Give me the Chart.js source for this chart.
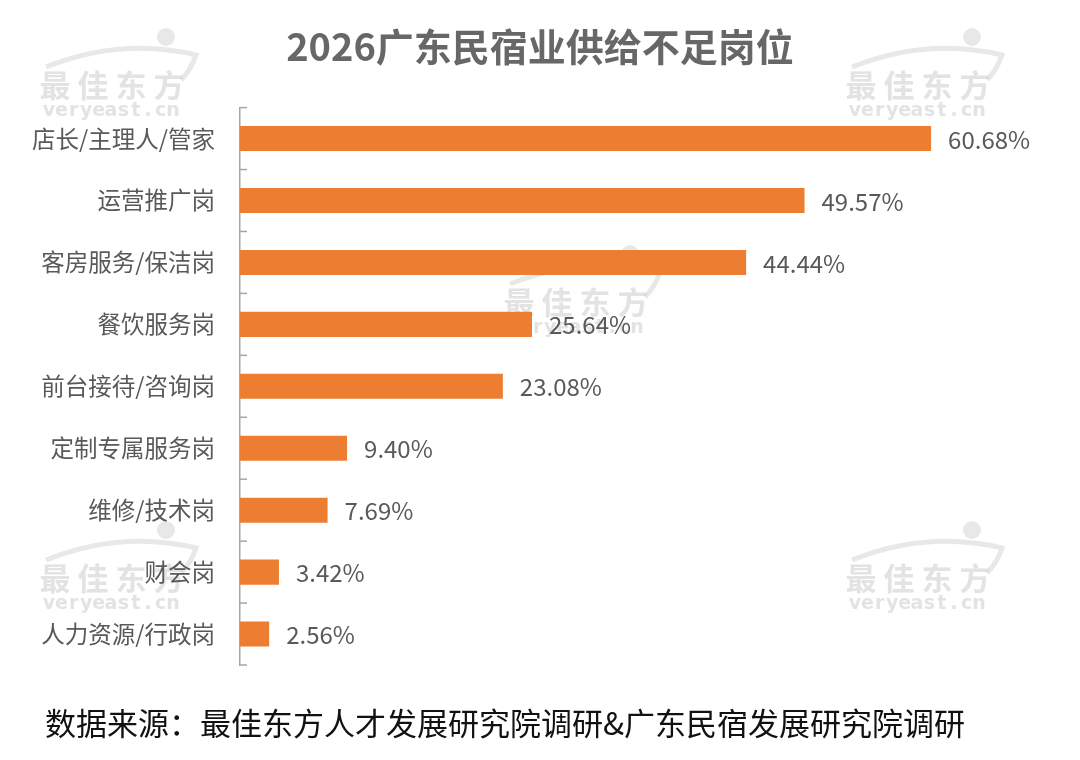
<!DOCTYPE html>
<html>
<head>
<meta charset="utf-8">
<script src="https://cdn.jsdelivr.net/npm/chart.js@4.4.1/dist/chart.umd.min.js"></script>
<style>
  html, body { margin: 0; padding: 0; background: #fff; }
  #wrap { width: 1080px; height: 760px; position: relative; }
  #source {
    position: absolute; left: 45px; top: 703px;
    font-family: 'Noto Sans CJK SC', 'Noto Sans', sans-serif;
    font-size: 31px; line-height: 38px; color: #111; white-space: nowrap;
  }
</style>
</head>
<body>
<div id="wrap">
  <canvas id="jobChart"></canvas>
  <div id="source"></div>
</div>
<script>
// 数据
const titleText = '2026广东民宿业供给不足岗位';
const sourceText = '数据来源：最佳东方人才发展研究院调研&广东民宿发展研究院调研';
const positions = ['店长/主理人/管家', '运营推广岗', '客房服务/保洁岗', '餐饮服务岗', '前台接待/咨询岗', '定制专属服务岗', '维修/技术岗', '财会岗', '人力资源/行政岗'];
const shares = [60.68, 49.57, 44.44, 25.64, 23.08, 9.40, 7.69, 3.42, 2.56];

const FONT = "'Noto Sans CJK SC', 'Noto Sans', sans-serif";
const ORANGE = '#ED7D31';
const TEXT_GRAY = '#595959';

document.getElementById('source').innerText = sourceText;

// faint 最佳东方 watermarks in the background
const watermarkSpots = [[111, 85], [917, 85], [575, 302], [111, 578], [917, 578]];
const watermarkPlugin = {
    id: 'watermark',
    beforeDraw(chart) {
        const ctx = chart.ctx;
        ctx.save();
        watermarkSpots.forEach(([cx, cy]) => {
            // swoosh + head
            ctx.strokeStyle = 'rgba(222,222,222,0.7)';
            ctx.lineWidth = 5;
            ctx.beginPath();
            ctx.moveTo(cx - 65, cy - 18);
            ctx.quadraticCurveTo(cx + 10, cy - 48, cx + 85, cy - 30);
            ctx.quadraticCurveTo(cx + 80, cy - 15, cx + 70, cy - 5);
            ctx.stroke();
            ctx.fillStyle = 'rgba(222,222,222,0.7)';
            ctx.beginPath();
            ctx.arc(cx + 55, cy - 48, 9, 0, Math.PI * 2);
            ctx.fill();
            // text
            ctx.fillStyle = 'rgba(212,212,212,0.65)';
            ctx.font = 'bold 31px ' + FONT;
            ctx.textAlign = 'center';
            ctx.textBaseline = 'middle';
            '最佳东方'.split('').forEach((c, i) => ctx.fillText(c, cx - 56 + i * 38, cy));
            ctx.font = 'bold 19px DejaVu Sans, sans-serif';
            const s = 'veryeast.cn';
            s.split('').forEach((c, i) => ctx.fillText(c, cx - 62 + i * 12.4, cy + 26));
        });
        ctx.restore();
    }
};

// short tick marks pointing into the plot, at category boundaries
const innerTicksPlugin = {
    id: 'innerTicks',
    afterDraw(chart) {
        const y = chart.scales.y;
        const ctx = chart.ctx;
        ctx.save();
        ctx.strokeStyle = '#a6a6a6';
        ctx.lineWidth = 1.5;
        for (let i = 0; i <= positions.length; i++) {
            const py = y.getPixelForValue(i - 0.5);
            ctx.beginPath();
            ctx.moveTo(y.right, py);
            ctx.lineTo(y.right + 7, py);
            ctx.stroke();
        }
        ctx.restore();
    }
};

// value labels at the end of each bar
const valueLabelPlugin = {
    id: 'valueLabels',
    afterDatasetsDraw(chart) {
        const ctx = chart.ctx;
        const meta = chart.getDatasetMeta(0);
        ctx.save();
        ctx.fillStyle = TEXT_GRAY;
        ctx.font = '24px ' + FONT;
        ctx.textAlign = 'left';
        ctx.textBaseline = 'middle';
        meta.data.forEach((bar, i) => {
            ctx.fillText(shares[i].toFixed(2) + '%', bar.x + 17, bar.y + 1);
        });
        ctx.restore();
    }
};

const ctx = document.getElementById('jobChart').getContext('2d');
new Chart(ctx, {
    type: 'bar',
    data: {
        labels: positions,
        datasets: [{
            data: shares,
            backgroundColor: ORANGE,
            borderWidth: 0,
            categoryPercentage: 1,
            barPercentage: 0.405
        }]
    },
    options: {
        indexAxis: 'y',
        responsive: true,
        maintainAspectRatio: false,
        animation: false,
        layout: { padding: { left: 20, right: 20, top: 0, bottom: 95 } },
        plugins: {
            legend: { display: false },
            tooltip: { enabled: false },
            title: {
                display: true,
                text: titleText,
                color: '#676767',
                font: { family: FONT, size: 38, weight: 'bold' },
                padding: { top: 24, bottom: 38 }
            }
        },
        scales: {
            x: {
                display: false,
                min: 0,
                max: 72
            },
            y: {
                afterFit: (scale) => { scale.width = 220; },
                grid: { display: false, drawTicks: false },
                border: { display: true, color: '#a6a6a6', width: 1.5 },
                ticks: {
                    color: TEXT_GRAY,
                    padding: 25,
                    font: { family: FONT, size: 23.5 }
                }
            }
        }
    },
    plugins: [watermarkPlugin, innerTicksPlugin, valueLabelPlugin]
});
</script>
</body>
</html>
